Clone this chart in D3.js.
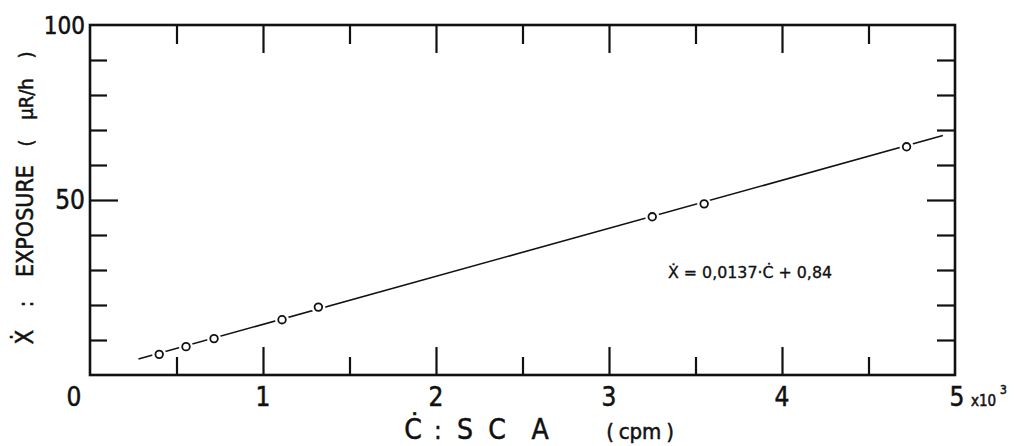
<!DOCTYPE html>
<html><head><meta charset="utf-8">
<script src="https://cdn.jsdelivr.net/npm/d3@7"></script>
<style>body{margin:0;background:#fff}svg{display:block}text{font-family:"DejaVu Sans Condensed","DejaVu Sans",sans-serif;fill:#111;stroke:#111;stroke-width:0.5px}</style>
</head><body><svg id="c" width="1014" height="446"></svg>
<script>
// data
const countRate = [0.40, 0.555, 0.717, 1.11, 1.32, 3.25, 3.55, 4.72];   // x 10^3 cpm
const exposure  = [5.9, 8.1, 10.4, 15.8, 19.4, 45.2, 48.9, 65.2];      // uR/h
const fitLineX = [0.28, 4.93];
const fitLineY = [4.6, 68.4];
const xMajorTicks = [0, 1, 2, 3, 4, 5];
const xMinorTicks = [0.5, 1.5, 2.5, 3.5, 4.5];
const yMajorTicks = [50];
const yMinorTicks = [10, 20, 30, 40, 60, 70, 80, 90];
const yTickLabels = [0, 50, 100];

const svg = d3.select("#c");
const L = 90, R = 955, T = 25, B = 375;
const x = d3.scaleLinear().domain([0, 5]).range([L, R]);
const y = d3.scaleLinear().domain([0, 100]).range([B, T]);
const ink = "#111";

// frame
svg.append("rect").attr("x", L).attr("y", T).attr("width", R - L).attr("height", B - T)
  .attr("fill", "none").attr("stroke", ink).attr("stroke-width", 2.6);

// ticks via axes (inward)
function styleAx(g){ g.select(".domain").remove(); g.selectAll("line").attr("stroke", ink).attr("stroke-width", 2.2); g.selectAll("text").remove(); }
svg.append("g").attr("transform", `translate(0,${B})`).call(d3.axisTop(x).tickValues(xMajorTicks.slice(1,5)).tickSize(28)).call(styleAx);
svg.append("g").attr("transform", `translate(0,${B})`).call(d3.axisTop(x).tickValues(xMinorTicks).tickSize(18)).call(styleAx);
svg.append("g").attr("transform", `translate(0,${T})`).call(d3.axisBottom(x).tickValues(xMajorTicks.slice(1,5)).tickSize(28)).call(styleAx);
svg.append("g").attr("transform", `translate(0,${T})`).call(d3.axisBottom(x).tickValues(xMinorTicks).tickSize(19)).call(styleAx);
svg.append("g").attr("transform", `translate(${L},0)`).call(d3.axisRight(y).tickValues(yMajorTicks).tickSize(28)).call(styleAx);
svg.append("g").attr("transform", `translate(${L},0)`).call(d3.axisRight(y).tickValues(yMinorTicks).tickSize(17)).call(styleAx);
svg.append("g").attr("transform", `translate(${R},0)`).call(d3.axisLeft(y).tickValues(yMajorTicks).tickSize(28)).call(styleAx);
svg.append("g").attr("transform", `translate(${R},0)`).call(d3.axisLeft(y).tickValues(yMinorTicks).tickSize(18)).call(styleAx);

// tick labels
xMajorTicks.forEach(v => {
  svg.append("text").attr("x", v === 0 ? 74 : x(v) + (v===5?2:0)).attr("y", 406)
    .attr("text-anchor", "middle").attr("font-size", 26).text(v);
});
svg.append("text").attr("x", 971).attr("y", 406).attr("font-size", 15).text("x10");
svg.append("text").attr("x", 1000).attr("y", 394).attr("font-size", 12).text("3");
yTickLabels.filter(v => v > 0).forEach(v => {
  svg.append("text").attr("x", 85).attr("y", y(v) + 9).attr("text-anchor", "end")
    .attr("font-size", v === 100 ? 24 : 26).text(v);
});

// fit line
svg.append("line").attr("x1", x(fitLineX[0])).attr("y1", y(fitLineY[0]))
  .attr("x2", x(fitLineX[1])).attr("y2", y(fitLineY[1]))
  .attr("stroke", ink).attr("stroke-width", 1.6);

// points
const pts = countRate.map((c, i) => [c, exposure[i]]);
svg.append("g").selectAll("circle.h").data(pts).join("circle")
  .attr("cx", d => x(d[0])).attr("cy", d => y(d[1])).attr("r", 7).attr("fill", "#fff");
svg.append("g").selectAll("circle.p").data(pts).join("circle")
  .attr("cx", d => x(d[0])).attr("cy", d => y(d[1])).attr("r", 3.8)
  .attr("fill", "#fff").attr("stroke", ink).attr("stroke-width", 1.8);

// equation
svg.append("text").attr("x", 668).attr("y", 278).attr("font-size", 15).style("stroke-width", "0.3px")
  .attr("textLength", 164).attr("lengthAdjust", "spacingAndGlyphs")
  .text("Ẋ = 0,0137·Ċ + 0,84");

// x axis title
const xt = [["Ċ",413,28],[":",438,24],["S",465,28],["C",497,28],["A",540,28],["(",610,22],["cpm",640,22],[")",670,22]];
xt.forEach(([t, px, fs]) => svg.append("text").attr("x", px).attr("y", 439).attr("text-anchor","middle").attr("font-size", fs).text(t));

// y axis title (rotated)
const yt = [["Ẋ",337,24],[":",304,22],["EXPOSURE",221,23],["(",143,20],["μR/h",99,20],[")",55,20]];
yt.forEach(([t, py, fs]) => svg.append("text").attr("transform", `translate(33,${py}) rotate(-90)`)
  .attr("text-anchor","middle").attr("font-size", fs).text(t));
</script></body></html>
